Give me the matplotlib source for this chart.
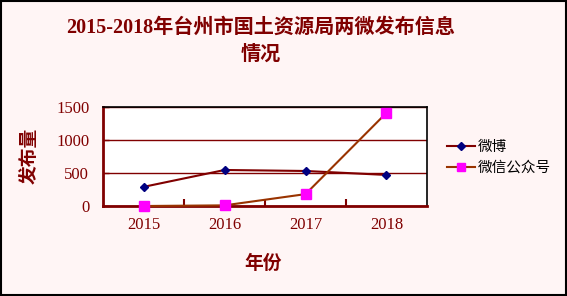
import numpy as np
import matplotlib
matplotlib.use("Agg")
import matplotlib.pyplot as plt
from matplotlib.patches import Rectangle

plt.rcParams['font.family'] = ['Liberation Serif', 'Noto Sans CJK SC']

years = ['2015', '2016', '2017', '2018']
weibo = [290, 545, 530, 470]
wechat = [0, 10, 180, 1410]

dark_red = '#800000'

fig = plt.figure(figsize=(5.67, 2.96), dpi=100)
fig.patch.set_facecolor('#FFF5F5')
fig.patches.append(Rectangle((0.002, 0.003), 0.996, 0.994, transform=fig.transFigure,
                             fill=False, edgecolor='black', linewidth=1.5))

ax = fig.add_axes([0.182, 0.304, 0.571, 0.335])
ax.set_facecolor('white')
x = np.arange(len(years))
ax.plot(x, weibo, color=dark_red, lw=1.5, marker='D', ms=4.5,
        mfc='#000080', mec='#000080', label='微博', zorder=3)
ax.plot(x, wechat, color='#993300', lw=1.5, marker='s', ms=6.5,
        mfc='#FF00FF', mec='#FF00FF', label='微信公众号', zorder=3, clip_on=False)

ax.set_xlim(-0.5, 3.5)
ax.set_ylim(0, 1500)
ax.set_yticks([0, 500, 1000, 1500])
ax.set_xticks(x)
ax.set_xticklabels(years)
ax.set_xticks([0.5, 1.5, 2.5], minor=True)
ax.tick_params(axis='x', which='major', length=0, pad=8, labelsize=12, labelcolor=dark_red)
ax.tick_params(axis='x', which='minor', length=5, direction='in', color=dark_red, width=1.5)
ax.tick_params(axis='y', length=4, direction='in', color=dark_red, width=1,
               labelsize=12, labelcolor=dark_red, pad=10)
ax.grid(axis='y', color=dark_red, lw=1)
ax.set_axisbelow(True)
for s in ['left', 'bottom']:
    ax.spines[s].set_color(dark_red)
    ax.spines[s].set_linewidth(2)
for s in ['top', 'right']:
    ax.spines[s].set_color('black')
    ax.spines[s].set_linewidth(1.2)

fig.text(0.46, 0.905, '2015-2018年台州市国土资源局两微发布信息', ha='center', va='center',
         fontsize=14.5, fontweight='bold', color=dark_red)
fig.text(0.46, 0.815, '情况', ha='center', va='center',
         fontsize=14.5, fontweight='bold', color=dark_red)
fig.text(0.464, 0.11, '年份', ha='center', va='center',
         fontsize=13.5, fontweight='bold', color=dark_red)
fig.text(0.053, 0.473, '发布量', ha='center', va='center', rotation=90,
         fontsize=13.5, fontweight='bold', color=dark_red)

fig.legend(loc='upper left', bbox_to_anchor=(0.788, 0.528), frameon=False,
           prop={'family': ['Noto Sans CJK SC'], 'size': 10.5}, handlelength=1.9,
           handletextpad=0.2, labelspacing=0.5, markerscale=0.8,
           borderpad=0, borderaxespad=0)

fig.savefig('out.png', dpi=100, facecolor=fig.get_facecolor())
